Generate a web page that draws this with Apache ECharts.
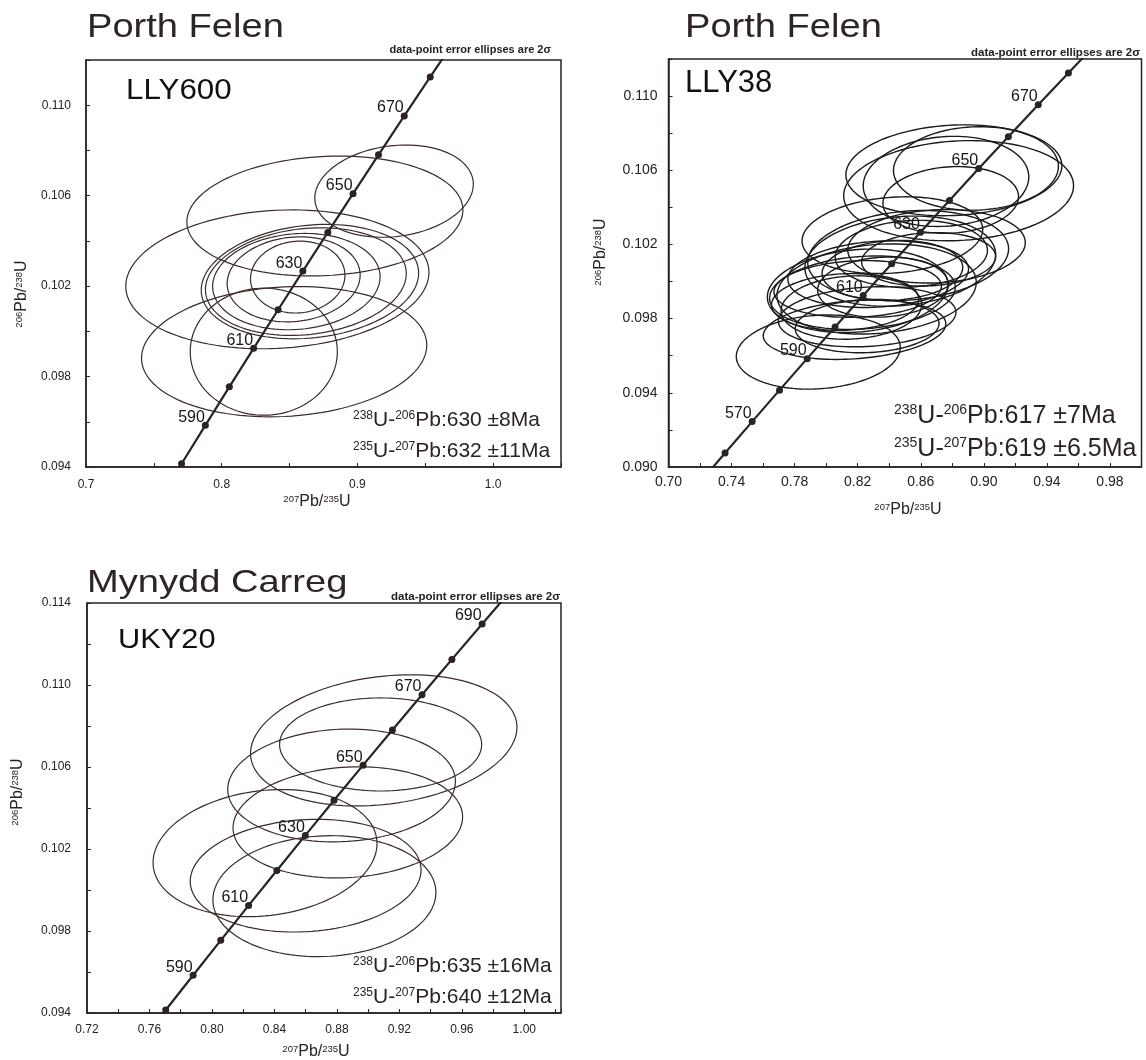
<!DOCTYPE html>
<html>
<head>
<meta charset="utf-8">
<title>U-Pb concordia diagrams</title>
<script src="https://cdn.jsdelivr.net/npm/echarts@6/dist/echarts.min.js"></script>
<style>
  html, body { margin: 0; padding: 0; background: #fff; }
  #chart { width: 1146px; height: 1060px; }
</style>
</head>
<body>
<div id="chart"></div>
<script>
// concordia curve, read at the 10 Ma marks
const concordiaAges = [550, 560, 570, 580, 590, 600, 610, 620, 630, 640, 650, 660, 670, 680, 690, 700];
const concordia207 = [0.71887, 0.73588, 0.75306, 0.77041, 0.78794, 0.80563, 0.82350, 0.84155,
  0.85978, 0.87818, 0.89677, 0.91554, 0.93450, 0.95365, 0.97298, 0.99251];
const concordia206 = [0.089064, 0.090755, 0.092448, 0.094144, 0.095843, 0.097544, 0.099248, 0.100954,
  0.102664, 0.104376, 0.106090, 0.107807, 0.109527, 0.111249, 0.112975, 0.114702];

// error ellipses: [207Pb/235U, 206Pb/238U, half-width, half-height, rho]
const lly600Ellipses = [
  [0.876, 0.1051, 0.1017, 0.00265, 0.10],
  [0.927, 0.1062, 0.0584, 0.00204, 0.15],
  [0.841, 0.1023, 0.1117, 0.00307, 0.10],
  [0.846, 0.0991, 0.1051, 0.00288, 0.10],
  [0.831, 0.0991, 0.0542, 0.00281, 0.00],
  [0.865, 0.1022, 0.0801, 0.00253, 0.15],
  [0.862, 0.1022, 0.0740, 0.00238, 0.15],
  [0.855, 0.1022, 0.0617, 0.00213, 0.10],
  [0.853, 0.1023, 0.0490, 0.00188, 0.10],
  [0.856, 0.1024, 0.0348, 0.00159, 0.05]
];
const lly38Ellipses = [
  [0.795, 0.0962, 0.0520, 0.00200, 0.12],
  [0.818, 0.0974, 0.0579, 0.00160, 0.20],
  [0.820, 0.0995, 0.0573, 0.00225, 0.15],
  [0.823, 0.0994, 0.0589, 0.00198, 0.15],
  [0.820, 0.0996, 0.0531, 0.00153, 0.10],
  [0.832, 0.0996, 0.0632, 0.00243, 0.15],
  [0.816, 0.0986, 0.0446, 0.00171, 0.10],
  [0.847, 0.1011, 0.0605, 0.00243, 0.15],
  [0.836, 0.0997, 0.0414, 0.00162, 0.10],
  [0.852, 0.1014, 0.0637, 0.00243, 0.15],
  [0.854, 0.1015, 0.0483, 0.00180, 0.10],
  [0.870, 0.1019, 0.0563, 0.00198, 0.10],
  [0.865, 0.1012, 0.0425, 0.00144, 0.10],
  [0.842, 0.1025, 0.0573, 0.00207, 0.15],
  [0.881, 0.1060, 0.0685, 0.00245, 0.10],
  [0.884, 0.1049, 0.0729, 0.00270, 0.10],
  [0.876, 0.1054, 0.0525, 0.00243, 0.10],
  [0.895, 0.1061, 0.0523, 0.00225, 0.05],
  [0.879, 0.1044, 0.0430, 0.00180, 0.10],
  [0.812, 0.0989, 0.0467, 0.00153, 0.10],
  [0.833, 0.1004, 0.0573, 0.00180, 0.15],
  [0.842, 0.1006, 0.0446, 0.00162, 0.10],
  [0.826, 0.0981, 0.0563, 0.00162, 0.15],
  [0.826, 0.0976, 0.0456, 0.00144, 0.10]
];
const uky20Ellipses = [
  [0.910, 0.1073, 0.0853, 0.00320, 0.20],
  [0.908, 0.1071, 0.0647, 0.00227, 0.00],
  [0.883, 0.1051, 0.0729, 0.00275, 0.07],
  [0.887, 0.1033, 0.0735, 0.00271, 0.10],
  [0.834, 0.1018, 0.0717, 0.00310, 0.15],
  [0.860, 0.1007, 0.0739, 0.00275, 0.10],
  [0.872, 0.0997, 0.0714, 0.00295, 0.06]
];

// labelled ages on each concordia
const lly600Labels = [590, 610, 630, 650, 670];
const lly38Labels = [570, 590, 610, 630, 650, 670];
const uky20Labels = [590, 610, 630, 650, 670, 690];

const lly600Results = ['{s|238}U-{s|206}Pb:630 ±8Ma', '{s|235}U-{s|207}Pb:632 ±11Ma'];
const lly38Results = ['{s|238}U-{s|206}Pb:617 ±7Ma', '{s|235}U-{s|207}Pb:619 ±6.5Ma'];
const uky20Results = ['{s|238}U-{s|206}Pb:635 ±16Ma', '{s|235}U-{s|207}Pb:640 ±12Ma'];

const FONT = '"Liberation Sans", Arial, Helvetica, sans-serif';
const INK = '#2a2321';

const panels = [
  {
    site: 'Porth Felen', sample: 'LLY600', ellipses: lly600Ellipses, labels: lly600Labels, results: lly600Results,
    grid: { left: 86, top: 60, width: 475, height: 407 },
    x: { min: 0.7, max: 1.05, step: 0.05, dec: 1 }, y: { min: 0.094, max: 0.112, step: 0.002 },
    tickFont: 12, yMargin: 15, xMargin: 12, ellColor: '#3b2c29', ellWidth: 1.2,
    title: [87, 27.5, 34, 1.12], sampleText: [126, 90.5, 29, 1.08], note: [551, 50, 11],
    res: [353, 420, 451, 21, 12], xName: [317, 502], yName: [22, 294]
  },
  {
    site: 'Porth Felen', sample: 'LLY38', ellipses: lly38Ellipses, labels: lly38Labels, results: lly38Results,
    grid: { left: 668.5, top: 59, width: 473, height: 408 },
    x: { min: 0.70, max: 1.00, step: 0.02, dec: 2 }, y: { min: 0.090, max: 0.112, step: 0.002 },
    tickFont: 14, yMargin: 11, xMargin: 8, ellColor: '#1c1a1a', ellWidth: 1.4,
    title: [685, 27.5, 34, 1.12], sampleText: [685, 83.5, 31, 1.0], note: [1140, 53, 11.5],
    res: [894, 416, 449, 25, 14], xName: [908, 510], yName: [601, 252]
  },
  {
    site: 'Mynydd Carreg', sample: 'UKY20', ellipses: uky20Ellipses, labels: uky20Labels, results: uky20Results,
    grid: { left: 87, top: 603, width: 474, height: 410 },
    x: { min: 0.72, max: 1.0235, step: 0.02, dec: 2 }, y: { min: 0.094, max: 0.114, step: 0.002 },
    tickFont: 12, yMargin: 16, xMargin: 11, ellColor: '#3b2c29', ellWidth: 1.2,
    title: [87, 583, 32, 1.19], sampleText: [118, 640, 28, 1.1], note: [560, 597, 11.5],
    res: [353, 966, 997.5, 21, 12], xName: [316, 1052], yName: [18, 792]
  }
];

function every2nd(min, step, dec) {
  return function (v) {
    const i = Math.round((v - min) / step);
    return i % 2 === 0 ? v.toFixed(dec) : '';
  };
}

function ellipseRenderer(color, width) {
  return function (params, api) {
    const cx = api.value(0), cy = api.value(1), a = api.value(2), b = api.value(3), r = api.value(4);
    const s = Math.sqrt(1 - r * r);
    const pts = [];
    for (let k = 0; k < 120; k++) {
      const t = (k / 120) * Math.PI * 2;
      pts.push(api.coord([cx + a * Math.cos(t), cy + b * (r * Math.cos(t) + s * Math.sin(t))]));
    }
    return {
      type: 'polygon',
      shape: { points: pts },
      style: { fill: 'none', stroke: color, lineWidth: width }
    };
  };
}

function text(x, y, str, size, extra) {
  return Object.assign({
    type: 'text', x: x, y: y, silent: true, z: 20,
    style: Object.assign({
      text: str, fontSize: size, fontFamily: FONT, fill: INK,
      align: 'left', textAlign: 'left', verticalAlign: 'middle', textVerticalAlign: 'middle'
    }, extra && extra.style)
  }, extra && extra.el);
}

function supRich(size) {
  return { s: { fontSize: size, fontFamily: FONT, fill: INK, color: INK, verticalAlign: 'top' } };
}

const grids = [], xAxes = [], yAxes = [], series = [], graphics = [];

panels.forEach(function (p, i) {
  grids.push(Object.assign({
    show: true, borderColor: INK, borderWidth: 1.5, backgroundColor: 'transparent',
    containLabel: false, outerBoundsMode: 'none'
  }, p.grid));

  xAxes.push({
    type: 'value', gridIndex: i, min: p.x.min, max: p.x.max, interval: p.x.step,
    axisLine: { show: true, onZero: false, lineStyle: { color: INK, width: 1.5 } },
    axisTick: { show: true, inside: true, length: 4, lineStyle: { color: INK, width: 1 } },
    axisLabel: {
      formatter: every2nd(p.x.min, p.x.step, p.x.dec), fontSize: p.tickFont,
      fontFamily: FONT, color: '#222', margin: p.xMargin, showMinLabel: true, showMaxLabel: true
    },
    splitLine: { show: false }
  });

  yAxes.push({
    type: 'value', gridIndex: i, min: p.y.min, max: p.y.max, interval: p.y.step,
    axisLine: { show: true, onZero: false, lineStyle: { color: INK, width: 1.5 } },
    axisTick: { show: true, inside: true, length: 4, lineStyle: { color: INK, width: 1 } },
    axisLabel: {
      formatter: every2nd(p.y.min, p.y.step, 3), fontSize: p.tickFont,
      fontFamily: FONT, color: '#222', margin: p.yMargin, showMinLabel: true, showMaxLabel: true
    },
    splitLine: { show: false }
  });

  series.push({
    type: 'custom', xAxisIndex: i, yAxisIndex: i, silent: true, clip: true, z: 2,
    encode: { x: 0, y: 1 },
    renderItem: ellipseRenderer(p.ellColor, p.ellWidth),
    data: p.ellipses
  });

  series.push({
    type: 'line', xAxisIndex: i, yAxisIndex: i, silent: true, clip: true, z: 3,
    symbol: 'none', lineStyle: { color: INK, width: 2.2 },
    data: concordiaAges.map(function (a, k) { return [concordia207[k], concordia206[k]]; })
  });

  const dots = [];
  concordiaAges.forEach(function (a, k) {
    const x = concordia207[k], y = concordia206[k];
    if (x < p.x.min || x > p.x.max || y < p.y.min || y > p.y.max) return;
    dots.push({
      value: [x, y],
      label: { show: p.labels.indexOf(a) >= 0, formatter: String(a), color: '#161616' }
    });
  });
  series.push({
    type: 'scatter', xAxisIndex: i, yAxisIndex: i, silent: true, clip: false, z: 4,
    symbol: 'circle', symbolSize: 7, itemStyle: { color: INK, opacity: 1 },
    label: {
      position: 'left', distance: 0, offset: [3, -8], fontSize: 16,
      fontFamily: FONT, color: '#161616', textBorderWidth: 0, opacity: 1
    },
    data: dots
  });

  graphics.push(text(p.title[0], p.title[1], p.site, p.title[2], {
    style: { fill: '#2d2523' }, el: { scaleX: p.title[3] }
  }));
  graphics.push(text(p.sampleText[0], p.sampleText[1], p.sample, p.sampleText[2], {
    style: { fill: '#111' }, el: { scaleX: p.sampleText[3] }
  }));
  graphics.push(text(p.note[0], p.note[1], 'data-point error ellipses are 2σ', p.note[2], {
    style: { align: 'right', textAlign: 'right', fontWeight: 'bold', fill: '#222' }
  }));
  graphics.push(text(p.res[0], p.res[1], p.results[0], p.res[3], { style: { rich: supRich(p.res[4]) } }));
  graphics.push(text(p.res[0], p.res[2], p.results[1], p.res[3], { style: { rich: supRich(p.res[4]) } }));
  graphics.push(text(p.xName[0], p.xName[1], '{s|207}Pb/{s|235}U', 16, {
    style: { align: 'center', textAlign: 'center', rich: supRich(9.5) }
  }));
  graphics.push(text(p.yName[0], p.yName[1], '{s|206}Pb/{s|238}U', 16, {
    style: { align: 'center', textAlign: 'center', rich: supRich(9.5) },
    el: { rotation: Math.PI / 2 }
  }));
});

const chart = echarts.init(document.getElementById('chart'));
chart.setOption({
  backgroundColor: '#fff',
  animation: false,
  grid: grids,
  xAxis: xAxes,
  yAxis: yAxes,
  series: series,
  graphic: { elements: graphics }
});
window.addEventListener('resize', function () { chart.resize(); });
</script>
</body>
</html>
